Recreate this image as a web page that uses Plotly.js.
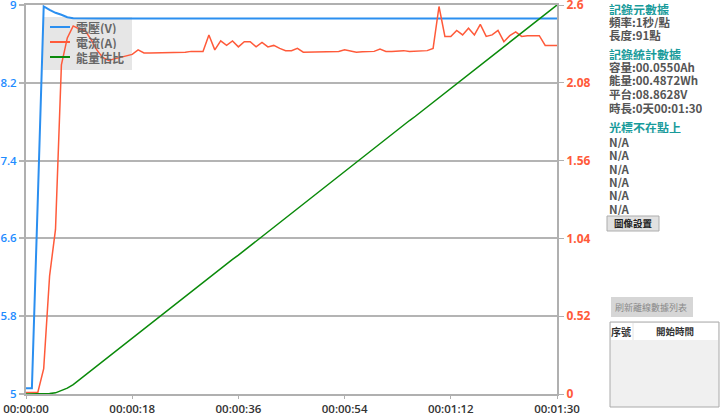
<!DOCTYPE html>
<html>
<head>
<meta charset="utf-8">
<script src="https://cdn.plot.ly/plotly-3.0.1.min.js"></script>
<style>
html,body{margin:0;padding:0;background:#fff;}
#chart{width:720px;height:415px;}
</style>
</head>
<body>
<div id="chart"></div>
<script>
// ---- data (1 sample per second, 0..90 s) ----
const seconds = [0,1,2,3,4,5,6,7,8,9,10,11,12,13,14,15,16,17,18,19,20,21,22,23,24,25,26,27,28,29,30,31,32,33,34,35,36,37,38,39,40,41,42,43,44,45,46,47,48,49,50,51,52,53,54,55,56,57,58,59,60,61,62,63,64,65,66,67,68,69,70,71,72,73,74,75,76,77,78,79,80,81,82,83,84,85,86,87,88,89,90];
const voltage = [5.06,5.06,7.0,8.985,8.95,8.92,8.90,8.875,8.865,8.863,8.862,8.862,8.862,8.862,8.862,8.862,8.862,8.862,8.862,8.862,8.862,8.862,8.862,8.862,8.862,8.862,8.862,8.862,8.862,8.862,8.862,8.862,8.862,8.862,8.862,8.862,8.862,8.862,8.862,8.862,8.862,8.862,8.862,8.862,8.862,8.862,8.862,8.862,8.862,8.862,8.862,8.862,8.862,8.862,8.862,8.862,8.862,8.862,8.862,8.862,8.862,8.862,8.862,8.862,8.862,8.862,8.862,8.862,8.862,8.862,8.862,8.862,8.862,8.862,8.862,8.862,8.862,8.862,8.862,8.862,8.862,8.861,8.861,8.861,8.861,8.860,8.860,8.860,8.860,8.860,8.860];
const current = [0.01,0.01,0.01,0.17,0.79,1.10,2.20,2.38,2.46,2.44,2.43,2.37,2.30,2.25,2.23,2.24,2.25,2.26,2.27,2.30,2.28,2.28,2.28,2.28,2.28,2.285,2.285,2.285,2.29,2.29,2.29,2.40,2.30,2.36,2.33,2.36,2.32,2.355,2.355,2.32,2.35,2.32,2.33,2.31,2.295,2.295,2.31,2.285,2.285,2.285,2.285,2.287,2.287,2.29,2.30,2.29,2.285,2.287,2.29,2.29,2.305,2.29,2.29,2.295,2.295,2.29,2.29,2.29,2.295,2.31,2.59,2.39,2.39,2.43,2.40,2.445,2.40,2.47,2.39,2.40,2.43,2.355,2.395,2.42,2.39,2.395,2.397,2.395,2.33,2.33,2.33];
const energyRatio = [0,0,0,0,0.001,0.003,0.008,0.015,0.024,0.036,0.048,0.060,0.072,0.084,0.096,0.108,0.119,0.131,0.143,0.155,0.167,0.179,0.191,0.203,0.215,0.227,0.238,0.250,0.262,0.274,0.286,0.298,0.310,0.322,0.334,0.346,0.357,0.369,0.381,0.393,0.405,0.417,0.429,0.441,0.453,0.465,0.476,0.488,0.500,0.512,0.524,0.536,0.548,0.560,0.572,0.584,0.595,0.607,0.619,0.631,0.643,0.655,0.667,0.679,0.691,0.703,0.714,0.726,0.738,0.750,0.762,0.774,0.786,0.798,0.810,0.822,0.833,0.845,0.857,0.869,0.881,0.893,0.905,0.917,0.929,0.941,0.952,0.964,0.976,0.988,1.000];

const seriesNames = ["電壓(V)","電流(A)","能量估比"];
const seriesColors = ["#2b8ff0","#ff5a3a","#0a8a0a"];
const xTickVals = [0,18,36,54,72,90];
const xTickText = ["00:00:00","00:00:18","00:00:36","00:00:54","00:01:12","00:01:30"];
const vTickVals = [5,5.8,6.6,7.4,8.2,9];
const vTickText = ["5","5.8","6.6","7.4","8.2","9"];
const aTickVals = [0,0.52,1.04,1.56,2.08,2.6];
const aTickText = ["0","0.52","1.04","1.56","2.08","2.6"];

const panelHead1 = "記錄元數據";
const panelMeta = ["頻率:1秒/點","長度:91點"];
const panelHead2 = "記錄統計數據";
const panelStats = ["容量:00.0550Ah","能量:00.4872Wh","平台:08.8628V","時長:0天00:01:30"];
const panelHead3 = "光標不在點上";
const panelCursor = ["N/A","N/A","N/A","N/A","N/A","N/A"];
const btnSettings = "圖像設置";
const btnRefresh = "刷新離線數據列表";
const tableHeaders = ["序號","開始時間"];

// ---- layout helpers (pixel -> paper) ----
const L = 26, R = 557, T = 5, B = 394;
const fx = px => (px - L) / (R - L);
const fy = py => (B - py) / (B - T);

const CJK = "Noto Sans CJK TC, Noto Sans, sans-serif";
const TICKF = "Open Sans, Noto Sans, sans-serif";

const traces = [
  {x: seconds, y: voltage, name: seriesNames[0], type: "scatter", mode: "lines",
   line: {color: seriesColors[0], width: 2}, yaxis: "y", showlegend: false},
  {x: seconds, y: current, name: seriesNames[1], type: "scatter", mode: "lines",
   line: {color: seriesColors[1], width: 1.5}, yaxis: "y2", showlegend: false},
  {x: seconds, y: energyRatio, name: seriesNames[2], type: "scatter", mode: "lines",
   line: {color: seriesColors[2], width: 1.5}, yaxis: "y3", showlegend: false}
];

const annotations = [];
function txt(s, px, py, opts) {
  opts = opts || {};
  annotations.push({
    text: s, xref: "paper", yref: "paper", x: fx(px), y: fy(py),
    xanchor: opts.xanchor || "left", yanchor: "middle", showarrow: false,
    height: opts.height || null, borderpad: 0,
    font: {family: CJK, size: opts.size || 12, color: opts.color || "#555",
           weight: opts.weight || "bold"}
  });
}
const teal = "#199b9b";
const PX = 608;
txt(panelHead1, PX, 9, {color: teal, height: 12});
panelMeta.forEach((s, i) => txt(s, PX, 22 + i * 13, {height: 12, size: 11.5}));
txt(panelHead2, PX, 54, {color: teal, height: 12});
panelStats.forEach((s, i) => txt(s, PX, 67 + i * 13.5, {height: 12, size: 11.5}));
txt(panelHead3, PX, 127, {color: teal, height: 12});
panelCursor.forEach((s, i) => txt(s, PX, 142 + i * 13.3, {height: 12, size: 11.5}));
txt(btnSettings, 633, 223.5, {xanchor: "center", color: "#222", size: 9.5});
txt(btnRefresh, 651, 307, {xanchor: "center", color: "#8a8a8a", size: 9, weight: "normal"});
txt(tableHeaders[0], 621, 331, {xanchor: "center", color: "#333", size: 10});
txt(tableHeaders[1], 675, 331, {xanchor: "center", color: "#333", size: 9.5});

// manual legend (text + line samples)
const legendRows = [27, 42, 57];
seriesNames.forEach((s, i) => txt(s, 75, legendRows[i], {color: "#666", size: 12, height: 14}));

function rect(x0, y0, x1, y1, fill, line, layer) {
  return {type: "rect", xref: "paper", yref: "paper",
    x0: fx(x0), x1: fx(x1), y0: fy(y0), y1: fy(y1),
    fillcolor: fill, line: line || {width: 0}, layer: layer || "above"};
}
function hline(x0, x1, y, color, width, layer) {
  return {type: "line", xref: "paper", yref: "paper", x0: fx(x0), x1: fx(x1), y0: fy(y), y1: fy(y),
    line: {color: color, width: width}, layer: layer || "above"};
}
const shapes = [
  rect(43, 17, 132, 70, "#e6e6e6", {width: 0}, "between"),
  hline(50, 70, legendRows[0], seriesColors[0], 2),
  hline(50, 70, legendRows[1], seriesColors[1], 2),
  hline(50, 70, legendRows[2], seriesColors[2], 2),
  rect(607, 216, 659, 231, "#e1e1e1", {color: "#adadad", width: 1}),
  rect(611, 297, 693, 317, "#d6d6d6", {width: 0}),
  rect(610, 322, 719, 407, "#f0f0f0", {color: "#aaaaaa", width: 1}),
  rect(611, 323, 718, 340, "#ffffff", {width: 0}),
  {type: "line", xref: "paper", yref: "paper", x0: fx(633), x1: fx(633), y0: fy(323), y1: fy(340),
   line: {color: "#e4e4e4", width: 1}}
];

const layout = {
  width: 720, height: 415,
  margin: {l: L, r: 720 - R, t: T, b: 415 - B, pad: 0},
  paper_bgcolor: "#ffffff", plot_bgcolor: "#ffffff",
  showlegend: false,
  xaxis: {range: [0, 90], tickvals: xTickVals, ticktext: xTickText,
    showgrid: false, zeroline: false, showline: true, mirror: true, linecolor: "#b0b0b0", linewidth: 2,
    ticks: "outside", ticklen: 3, tickcolor: "#b0b0b0", tickwidth: 1,
    tickfont: {family: TICKF, size: 11.5, color: "#333", weight: 600}},
  yaxis: {range: [5, 9], tickvals: vTickVals, ticktext: vTickText,
    showgrid: true, gridcolor: "#b4b4b4", gridwidth: 2, zeroline: false,
    showline: true, linecolor: "#b0b0b0", linewidth: 2,
    ticks: "outside", ticklen: 5, tickcolor: "#b4b4b4", tickwidth: 2,
    ticklabeloverflow: "allow",
    tickfont: {family: TICKF, size: 11.5, color: "#1e8cff", weight: 600}},
  yaxis2: {range: [0, 2.6], tickvals: aTickVals, ticktext: aTickText, overlaying: "y", side: "right",
    showgrid: false, zeroline: false, showline: true, linecolor: "#b0b0b0", linewidth: 2,
    ticks: "outside", ticklen: 5, tickcolor: "#b0b0b0", tickwidth: 1,
    ticklabeloverflow: "allow",
    tickfont: {family: TICKF, size: 12, color: "#ff5a3a", weight: 700}},
  yaxis3: {range: [0, 1], overlaying: "y", visible: false},
  annotations: annotations,
  shapes: shapes
};

Plotly.newPlot("chart", traces, layout, {staticPlot: true, displayModeBar: false});
</script>
</body>
</html>
